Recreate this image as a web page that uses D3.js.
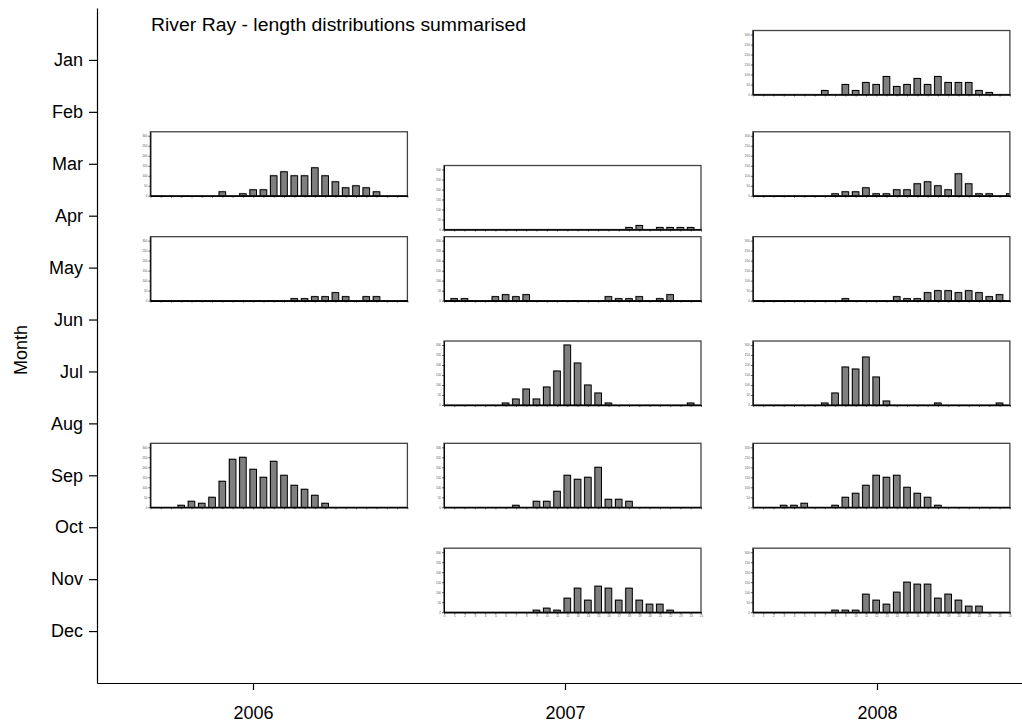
<!DOCTYPE html>
<html>
<head>
<meta charset="utf-8">
<script src="https://cdn.jsdelivr.net/npm/d3@7"></script>
<style>
  html, body { margin: 0; padding: 0; background: #fff; }
  svg { display: block; font-family: Arial, "Liberation Sans", sans-serif; }
</style>
</head>
<body>
<svg id="chart" width="1022" height="724"></svg>
<script>
// Month and year labels of the outer frame
const months = ["Jan", "Feb", "Mar", "Apr", "May", "Jun", "Jul", "Aug", "Sep", "Oct", "Nov", "Dec"];
const years = [2006, 2007, 2008];

// Length-class counts (26 classes) for each sampling occasion
const jan2008 = [0,0,0,0,0,0,0,20,0,50,20,60,50,90,40,50,80,50,90,60,60,60,20,10,0,0];
const mar2006 = [0,0,0,0,0,0,0,20,0,10,30,30,100,120,100,100,140,100,70,40,50,40,20,0,0,0];
const apr2007 = [0,0,0,0,0,0,0,0,0,0,0,0,0,0,0,0,0,0,10,20,0,10,10,10,10,0];
const mar2008 = [0,0,0,0,0,0,0,0,10,20,20,40,10,10,30,30,60,70,50,30,110,60,10,10,0,10];
const may2006 = [0,0,0,0,0,0,0,0,0,0,0,0,0,0,10,10,20,20,40,20,0,20,20,0,0,0];
const may2007 = [0,10,10,0,0,20,30,20,30,0,0,0,0,0,0,0,20,10,10,20,0,10,30,0,0,0];
const may2008 = [0,0,0,0,0,0,0,0,0,10,0,0,0,0,20,10,10,40,50,50,40,50,40,20,30,0];
const jul2007 = [0,0,0,0,0,0,10,30,80,30,90,170,300,210,100,60,10,0,0,0,0,0,0,0,10,0];
const jul2008 = [0,0,0,0,0,0,0,10,60,190,180,240,140,20,0,0,0,0,10,0,0,0,0,0,10,0];
const sep2006 = [0,0,0,10,30,20,50,130,240,250,190,150,230,160,110,90,60,20,0,0,0,0,0,0,0,0];
const sep2007 = [0,0,0,0,0,0,0,10,0,30,30,80,160,140,150,200,40,40,30,0,0,0,0,0,0,0];
const sep2008 = [0,0,0,10,10,20,0,0,10,50,70,110,160,150,160,100,70,50,10,0,0,0,0,0,0,0];
const nov2007 = [0,0,0,0,0,0,0,0,0,10,20,10,70,120,60,130,120,60,120,60,40,40,10,0,0,0];
const nov2008 = [0,0,0,0,0,0,0,0,10,10,10,90,60,40,100,150,140,140,70,90,60,30,30,0,0,0];

// Where each histogram sits on the outer frame (decimal year, decimal month)
const panelYears  = [2008.014, 2006.083, 2007.024, 2008.014, 2006.083, 2007.024, 2008.014, 2007.024, 2008.014, 2006.083, 2007.024, 2008.014, 2007.024, 2008.014];
const panelMonths = [1.05, 3.0, 3.65, 3.0, 5.02, 5.02, 5.02, 7.03, 7.03, 9.0, 9.0, 9.0, 11.02, 11.02];
const panelCounts = [jan2008, mar2006, apr2007, mar2008, may2006, may2007, may2008, jul2007, jul2008, sep2006, sep2007, sep2008, nov2007, nov2008];
const panelXLabels = [false, false, false, false, false, false, false, false, false, false, false, false, true, true];

// Small axes inside each histogram
const countTicks = [0, 50, 100, 150, 200, 250, 300];
const countMax = 320;
const classCount = 25;

const svg = d3.select("#chart");
const FONT = "Arial, 'Liberation Sans', sans-serif";
const FS = 18;

// Outer frame scales
const x = d3.scaleLinear().domain([2005.5, 2008.5]).range([97, 1033]);
const y = d3.scaleLinear().domain([0, 13]).range([8, 683]);

// Y axis (months)
const yAxis = d3.axisLeft(y)
  .tickValues(d3.range(1, 13))
  .tickFormat(d => months[d - 1])
  .tickSize(8)
  .tickSizeOuter(0)
  .tickPadding(6);
const gy = svg.append("g").attr("transform", "translate(97,0)").call(yAxis);
gy.select(".domain").attr("stroke", "#000").attr("stroke-width", 1.2);
gy.selectAll(".tick line").attr("stroke", "#000").attr("stroke-width", 1.2);
gy.selectAll(".tick text").attr("font-size", FS).attr("fill", "#000").attr("font-family", FONT);

// X axis (years)
const xAxis = d3.axisBottom(x)
  .tickValues(years)
  .tickFormat(d3.format("d"))
  .tickSize(7)
  .tickSizeOuter(0)
  .tickPadding(16);
const gx = svg.append("g").attr("transform", "translate(0,683)").call(xAxis);
gx.select(".domain").attr("stroke", "#000").attr("stroke-width", 1.2);
gx.selectAll(".tick line").attr("stroke", "#000").attr("stroke-width", 1.2);
gx.selectAll(".tick text").attr("font-size", FS).attr("fill", "#000").attr("font-family", FONT);

// Axis title
svg.append("text")
  .attr("transform", "translate(27,350) rotate(-90)")
  .attr("text-anchor", "middle")
  .attr("font-size", FS)
  .text("Month");

// Chart title
svg.append("text")
  .attr("x", 151).attr("y", 31)
  .attr("font-size", FS)
  .attr("textLength", 375)
  .attr("lengthAdjust", "spacingAndGlyphs")
  .text("River Ray - length distributions summarised");

// Histogram panels
const panelW = 257, panelH = 64;
const px = d3.scaleLinear().domain([0, classCount]).range([0, panelW]);
const py = d3.scaleLinear().domain([0, countMax]).range([panelH, 0]);
const barW = 6.6;

panelCounts.forEach((counts, i) => {
  const cx = x(panelYears[i]);
  const cy = y(panelMonths[i]);
  const g = svg.append("g")
    .attr("transform", `translate(${cx - panelW / 2},${cy - panelH / 2})`);

  g.append("rect")
    .attr("x", 0).attr("y", 0)
    .attr("width", panelW).attr("height", panelH)
    .attr("fill", "#fff")
    .attr("stroke", "#444").attr("stroke-width", 1.3);

  const clip = `clip${i}`;
  g.append("clipPath").attr("id", clip)
    .append("rect").attr("width", panelW).attr("height", panelH);

  const bars = g.append("g").attr("clip-path", `url(#${clip})`);
  const data = counts.map((v, k) => ({ k, v })).filter(d => d.v > 0);

  // soft shadow behind each bar
  bars.selectAll("rect.sh").data(data).join("rect")
    .attr("class", "sh")
    .attr("x", d => px(d.k) - barW / 2 - 1)
    .attr("y", d => py(d.v) - 1)
    .attr("width", barW)
    .attr("height", d => panelH - py(d.v))
    .attr("fill", "#c8c8c8");

  bars.selectAll("rect.bar").data(data).join("rect")
    .attr("class", "bar")
    .attr("x", d => px(d.k) - barW / 2)
    .attr("y", d => py(d.v))
    .attr("width", barW)
    .attr("height", d => panelH - py(d.v))
    .attr("fill", "#7f7f7f")
    .attr("stroke", "#000")
    .attr("stroke-width", 1);

  // count axis
  const ay = g.append("g").call(
    d3.axisLeft(py).tickValues(countTicks).tickSize(2).tickPadding(1).tickSizeOuter(0)
  );
  ay.select(".domain").attr("stroke", "#000").attr("stroke-width", 1);
  ay.selectAll(".tick line").attr("stroke", "#000").attr("stroke-width", 0.6);
  ay.selectAll(".tick text").attr("font-size", 3).attr("fill", "#555");

  // length-class axis
  const ax = g.append("g").attr("transform", `translate(0,${panelH})`).call(
    d3.axisBottom(px).tickValues(d3.range(0, classCount + 1)).tickSize(2).tickPadding(1).tickSizeOuter(0)
      .tickFormat(panelXLabels[i] ? (d => d) : "")
  );
  ax.select(".domain").attr("stroke", "#000").attr("stroke-width", 1.6);
  ax.selectAll(".tick line").attr("stroke", "#000").attr("stroke-width", 0.6);
  ax.selectAll(".tick text").attr("font-size", 3).attr("fill", "#555");
});
</script>
</body>
</html>
